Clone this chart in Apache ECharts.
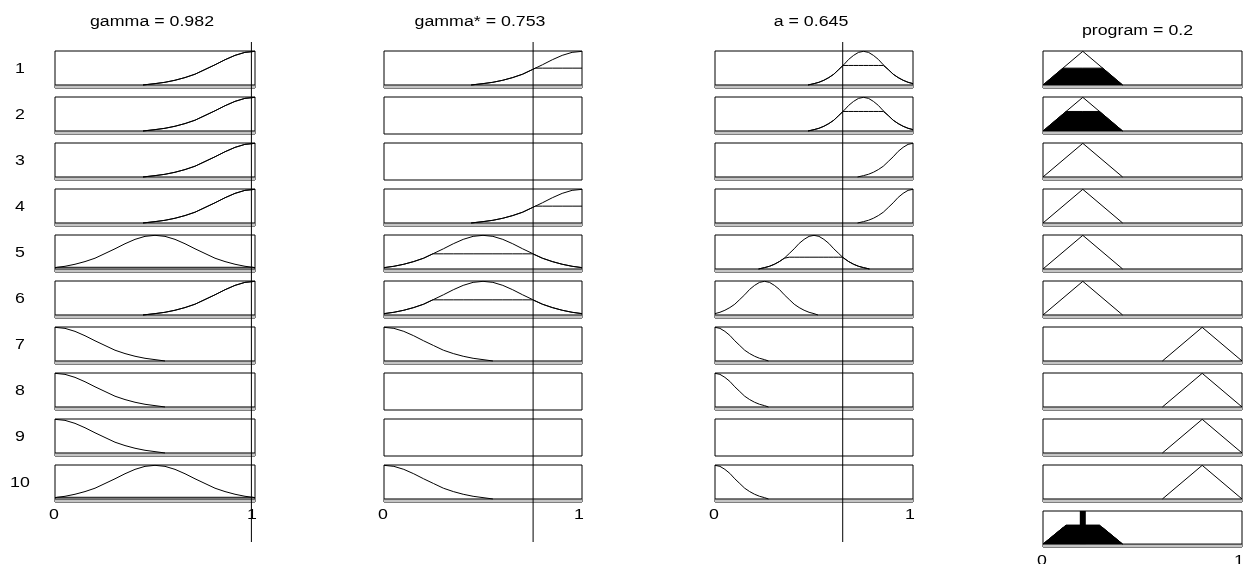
<!DOCTYPE html>
<html>
<head>
<meta charset="utf-8">
<title>rule viewer</title>
<script src="https://cdn.jsdelivr.net/npm/echarts@6/dist/echarts.min.js"></script>
<style>
    html, body {margin: 0; padding: 0; background: #fff;}
    #main {width: 1247px; height: 564px;}
</style>
</head>
<body>
<div id="main"></div>
<script>
// values shown in the column titles
var inputNames = ['gamma', 'gamma*', 'a'];
var inputValues = [0.982, 0.753, 0.645];
var outputName = 'program';
var outputValue = 0.2;
var ruleLabels = ['1', '2', '3', '4', '5', '6', '7', '8', '9', '10'];
var tickLabels = ['0', '1'];

// membership shapes, [x, mu]
var wideLow = [[0, 1], [0.05, 0.97], [0.1, 0.88], [0.15, 0.75], [0.2, 0.6], [0.25, 0.46], [0.3, 0.32], [0.35, 0.22], [0.4, 0.14], [0.45, 0.08], [0.5, 0.04], [0.55, 0]];
var wideMid = [[0, 0.04], [0.05, 0.08], [0.1, 0.14], [0.15, 0.22], [0.2, 0.32], [0.25, 0.46], [0.3, 0.6], [0.35, 0.75], [0.4, 0.88], [0.45, 0.97], [0.5, 1], [0.55, 0.97], [0.6, 0.88], [0.65, 0.75], [0.7, 0.6], [0.75, 0.46], [0.8, 0.32], [0.85, 0.22], [0.9, 0.14], [0.95, 0.08], [1, 0.04]];
var wideHigh = [[0.44, 0], [0.5, 0.04], [0.55, 0.08], [0.6, 0.14], [0.65, 0.22], [0.7, 0.32], [0.75, 0.46], [0.8, 0.6], [0.85, 0.75], [0.9, 0.88], [0.95, 0.97], [1, 1]];
var aLow = [[0, 1], [0.025, 0.97], [0.05, 0.88], [0.075, 0.76], [0.1, 0.6], [0.125, 0.46], [0.15, 0.32], [0.175, 0.22], [0.2, 0.14], [0.225, 0.08], [0.25, 0.04], [0.27, 0]];
var aLowMid = [[0, 0.04], [0.025, 0.08], [0.05, 0.14], [0.075, 0.22], [0.1, 0.32], [0.125, 0.46], [0.15, 0.6], [0.175, 0.76], [0.2, 0.88], [0.225, 0.97], [0.25, 1], [0.275, 0.97], [0.3, 0.88], [0.325, 0.76], [0.35, 0.6], [0.375, 0.46], [0.4, 0.32], [0.425, 0.22], [0.45, 0.14], [0.475, 0.08], [0.5, 0.04], [0.52, 0]];
var aMid = [[0.22, 0], [0.25, 0.04], [0.275, 0.08], [0.3, 0.14], [0.325, 0.22], [0.35, 0.32], [0.375, 0.46], [0.4, 0.6], [0.425, 0.76], [0.45, 0.88], [0.475, 0.97], [0.5, 1], [0.525, 0.97], [0.55, 0.88], [0.575, 0.76], [0.6, 0.6], [0.625, 0.46], [0.65, 0.32], [0.675, 0.22], [0.7, 0.14], [0.725, 0.08], [0.75, 0.04], [0.78, 0]];
var aMidHigh = [[0.47, 0], [0.5, 0.04], [0.525, 0.08], [0.55, 0.14], [0.575, 0.22], [0.6, 0.32], [0.625, 0.46], [0.65, 0.6], [0.675, 0.76], [0.7, 0.88], [0.725, 0.97], [0.75, 1], [0.775, 0.97], [0.8, 0.88], [0.825, 0.76], [0.85, 0.6], [0.875, 0.46], [0.9, 0.32], [0.925, 0.22], [0.95, 0.14], [0.975, 0.08], [1, 0.04]];
var aHigh = [[0.72, 0], [0.75, 0.04], [0.775, 0.08], [0.8, 0.14], [0.825, 0.22], [0.85, 0.32], [0.875, 0.46], [0.9, 0.6], [0.925, 0.76], [0.95, 0.88], [0.975, 0.97], [1, 1]];
var progLow = [[0, 0], [0.2, 1], [0.4, 0]];
var progHigh = [[0.6, 0], [0.8, 1], [1, 0]];

// rule table (null = input not used in the rule)
var ruleGamma = ['H', 'H', 'H', 'H', 'M', 'H', 'L', 'L', 'L', 'M'];
var ruleGammaStar = ['H', null, null, 'H', 'M', 'M', 'L', null, null, 'L'];
var ruleA = ['MH', 'MH', 'H', 'H', 'M', 'LM', 'L', 'L', null, 'L'];
var ruleProgram = ['L', 'L', 'L', 'L', 'L', 'L', 'H', 'H', 'H', 'H'];

// degree of each input in each rule, and the firing level of each rule
var gammaDegree = [1, 1, 1, 1, 0.05, 1, 0, 0, 0, 0.05];
var gammaStarDegree = [0.5, null, null, 0.5, 0.45, 0.45, 0, null, null, 0];
var aDegree = [0.58, 0.58, 0, 0, 0.35, 0, 0, 0, null, 0];
var firing = [0.5, 0.58, 0, 0, 0, 0, 0, 0, 0, 0];

var shapes = [
    {H: wideHigh, M: wideMid, L: wideLow},
    {H: wideHigh, M: wideMid, L: wideLow},
    {H: aHigh, MH: aMidHigh, M: aMid, LM: aLowMid, L: aLow},
    {H: progHigh, L: progLow}
];
var rules = [ruleGamma, ruleGammaStar, ruleA, ruleProgram];
var degrees = [gammaDegree, gammaStarDegree, aDegree, firing];

// layout
var colLeft = [55, 384, 715, 1043];
var colWidth = [200, 198, 198, 199];
var rowTop = 51, rowStep = 46, boxH = 37;
var font = '14px "Liberation Sans", Arial, sans-serif';
var textScale = 1.27;

// cut a curve at level lv, adding the crossing points
function clip(pts, lv) {
    var out = [];
    for (var i = 0; i < pts.length; i++) {
        var p = pts[i];
        if (i > 0) {
            var q = pts[i - 1];
            if ((q[1] - lv) * (p[1] - lv) < 0) {
                var t = (lv - q[1]) / (p[1] - q[1]);
                out.push([q[0] + t * (p[0] - q[0]), lv]);
            }
        }
        out.push([p[0], Math.min(p[1], lv)]);
    }
    return out;
}

var grids = [], xAxes = [], yAxes = [], series = [], graphic = [];

function line(gi, data, extra) {
    var s = {
        type: 'line', xAxisIndex: gi, yAxisIndex: gi, data: data,
        symbol: 'none', silent: true, animation: false,
        lineStyle: {color: '#000', width: 1}
    };
    for (var k in extra) s[k] = extra[k];
    series.push(s);
}

function addGrid(left, top, w, h, box, yMin, yMax) {
    grids.push({
        left: left, top: top, width: w, height: h,
        show: box, borderColor: '#000', borderWidth: 1, backgroundColor: '#fff'
    });
    xAxes.push({gridIndex: grids.length - 1, type: 'value', min: 0, max: 1, show: false});
    yAxes.push({gridIndex: grids.length - 1, type: 'value', min: yMin, max: yMax, show: false});
    return grids.length - 1;
}

function baseStrip(gi) {
    line(gi, [[0, 0], [1, 0]], {areaStyle: {color: '#c4c4c4', origin: 'start', opacity: 1}});
}

for (var c = 0; c < 4; c++) {
    for (var r = 0; r < 10; r++) {
        var gi = addGrid(colLeft[c], rowTop + r * rowStep, colWidth[c], boxH, true, -0.09, 1.01);
        var key = rules[c][r];
        if (key === null) continue;
        var shape = shapes[c][key];
        baseStrip(gi);
        var lv = degrees[c][r];
        line(gi, shape);
        if (lv > 0) {
            if (c < 3) {
                line(gi, clip(shape, lv));
            } else {
                line(gi, clip(shape, lv), {areaStyle: {color: '#000', opacity: 1}});
            }
        }
    }
}

// aggregated output
var ag = addGrid(colLeft[3], rowTop + 10 * rowStep, colWidth[3], boxH - 1, true, -0.09, 1.01);
baseStrip(ag);
for (var r = 0; r < 10; r++) {
    if (firing[r] > 0) {
        line(ag, clip(shapes[3][ruleProgram[r]], firing[r]), {areaStyle: {color: '#000', opacity: 1}});
    }
}
line(ag, [[outputValue, 0], [outputValue, 1.01]], {lineStyle: {color: '#000', width: 6}});

// input value lines across all rules
for (var c = 0; c < 3; c++) {
    var vi = addGrid(colLeft[c], 42, colWidth[c], 500, false, 0, 1);
    line(vi, [[inputValues[c], 0], [inputValues[c], 1]], {z: 10});
}

function text(str, x, y) {
    graphic.push({
        type: 'text', x: x, y: y, scaleX: textScale, silent: true, z: 20,
        style: {text: str, fill: '#000', font: font, align: 'center', verticalAlign: 'middle'}
    });
}

for (var c = 0; c < 3; c++) {
    text(inputNames[c] + ' = ' + inputValues[c], colLeft[c] + colWidth[c] / 2 - 3, 22);
    text(tickLabels[0], colLeft[c] - 1, 515);
    text(tickLabels[1], colLeft[c] + colWidth[c] - 3, 515);
}
text(outputName + ' = ' + outputValue, colLeft[3] + colWidth[3] / 2 - 5, 31);
text(tickLabels[0], colLeft[3] - 1, 561);
text(tickLabels[1], colLeft[3] + colWidth[3] - 3, 561);
for (var r = 0; r < 10; r++) {
    text(ruleLabels[r], 20, rowTop + r * rowStep + boxH / 2);
}

var myChart = echarts.init(document.getElementById('main'));
myChart.setOption({
    animation: false,
    backgroundColor: '#fff',
    grid: grids,
    xAxis: xAxes,
    yAxis: yAxes,
    series: series,
    graphic: graphic
});
</script>
</body>
</html>
